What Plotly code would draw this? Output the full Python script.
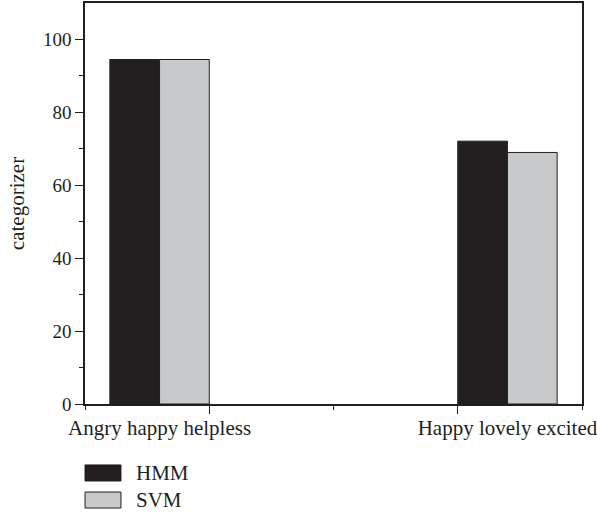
import plotly.graph_objects as go

categories = ["Angry happy helpless", "Happy lovely excited"]
group_centers = [0.6, 3.4]
series_names = ["HMM", "SVM"]
hmm_values = [94.5, 72.1]
svm_values = [94.5, 69.0]
colors = ["#231f20", "#c8c9ca"]
y_ticks = [0, 20, 40, 60, 80, 100]

INK = "#231f20"
FONT = "Liberation Serif"
bar_w = 0.4

fig = go.Figure()
fig.add_trace(go.Bar(
    x=[c - bar_w / 2 for c in group_centers], y=hmm_values, width=bar_w,
    name=series_names[0], marker=dict(color=colors[0], line=dict(color=INK, width=1)),
    showlegend=False))
fig.add_trace(go.Bar(
    x=[c + bar_w / 2 for c in group_centers], y=svm_values, width=bar_w,
    name=series_names[1], marker=dict(color=colors[1], line=dict(color=INK, width=1)),
    showlegend=False))
# invisible trace on overlay axis for category labels
fig.add_trace(go.Scatter(x=group_centers, y=[None, None], xaxis="x2", showlegend=False,
                         hoverinfo="skip", mode="markers"))

fig.update_layout(
    width=597, height=513,
    margin=dict(l=85, r=15, t=3, b=109, autoexpand=False),
    plot_bgcolor="white", paper_bgcolor="white",
    font=dict(family=FONT, size=19, color=INK),
    barmode="overlay",
    xaxis=dict(range=[0, 4], tickvals=[1, 3], ticktext=["", ""], ticks="outside",
               ticklen=8, tickwidth=1, tickcolor=INK,
               minor=dict(tickvals=[0, 2, 4], ticks="outside", ticklen=4, tickcolor=INK, tickwidth=1),
               showline=True, linecolor=INK, linewidth=1.5, mirror=True,
               showgrid=False, zeroline=False, fixedrange=True),
    xaxis2=dict(range=[0, 4], overlaying="x", side="bottom", tickvals=group_centers,
                ticktext=categories, ticks="", showline=False, showgrid=False,
                zeroline=False, tickfont=dict(family=FONT, size=21, color=INK),
                ticklabelstandoff=9, ticklabeloverflow="allow"),
    yaxis=dict(range=[0, 110], tickvals=y_ticks, ticks="outside", ticklen=8, tickwidth=1,
               tickcolor=INK,
               minor=dict(tickvals=[10, 30, 50, 70, 90], ticks="outside", ticklen=4, tickcolor=INK, tickwidth=1),
               showline=True, linecolor=INK, linewidth=1.5, mirror=True,
               showgrid=False, zeroline=False,
               title=dict(text="categorizer", standoff=13, font=dict(family=FONT, size=21, color=INK)),
               tickfont=dict(family=FONT, size=19, color=INK)),
)

# legend drawn as swatches + labels below the plot
for i, (name, col) in enumerate(zip(series_names, colors)):
    y0 = -0.152 - i * 0.0675
    fig.add_shape(type="rect", xref="paper", yref="paper",
                  x0=0.0, x1=0.0724, y0=y0 - 0.04, y1=y0,
                  fillcolor=col, line=dict(color=INK, width=1))
    fig.add_annotation(xref="paper", yref="paper", x=0.098, y=y0 - 0.02, text=name,
                       showarrow=False, xanchor="left", yanchor="middle",
                       font=dict(family=FONT, size=21, color=INK))

fig.write_html("out.html", config={"displayModeBar": False},
               post_script="document.body.style.margin='0';")
